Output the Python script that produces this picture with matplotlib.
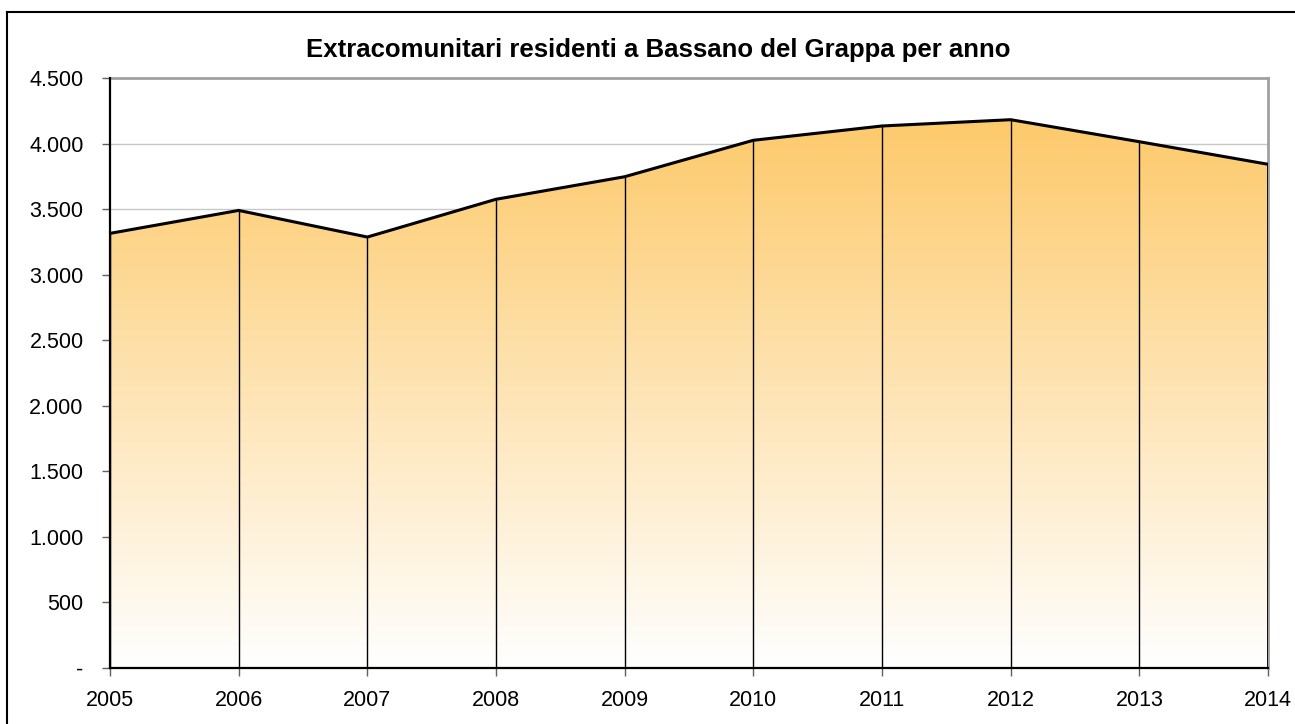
import matplotlib
matplotlib.use("Agg")
import matplotlib.pyplot as plt
import numpy as np
from matplotlib.colors import LinearSegmentedColormap
from matplotlib.lines import Line2D
from matplotlib.patches import Polygon
from matplotlib.ticker import FuncFormatter, MultipleLocator

plt.rcParams["font.family"] = ["Liberation Sans", "DejaVu Sans"]

years = [2005, 2006, 2007, 2008, 2009, 2010, 2011, 2012, 2013, 2014]
residenti = [3315, 3490, 3287, 3575, 3747, 4025, 4134, 4182, 4014, 3842]
title = "Extracomunitari residenti a Bassano del Grappa per anno"

W, H = 1295, 724
fig = plt.figure(figsize=(W / 100, H / 100), dpi=100)
ax = fig.add_axes([110 / W, (H - 668) / H, (1268 - 110) / W, (668 - 78) / H])

# gradiente arancio -> bianco, ritagliato sull'area
cmap = LinearSegmentedColormap.from_list("arancio", ["#ffffff", "#fdc867"])
grad = np.linspace(0, 1, 256).reshape(-1, 1)
im = ax.imshow(grad, cmap=cmap, aspect="auto", origin="lower",
               extent=[years[0], years[-1], 0, 4300], zorder=1)
poly = Polygon([(years[0], 0)] + list(zip(years, residenti)) + [(years[-1], 0)],
               closed=True, facecolor="none", edgecolor="none")
ax.add_patch(poly)
im.set_clip_path(poly)

ax.vlines(years[:-1], 0, residenti[:-1], color="black", lw=1, zorder=3)
ax.vlines(years[-1], 0, residenti[-1], color="black", lw=2, zorder=3)
ax.plot(years, residenti, color="black", lw=2.2, zorder=4, solid_joinstyle="miter")

ax.set_xlim(years[0], years[-1])
ax.set_ylim(0, 4500)
ax.yaxis.set_major_locator(MultipleLocator(500))
ax.yaxis.set_major_formatter(FuncFormatter(
    lambda v, _: "-" if v == 0 else f"{v:,.0f}".replace(",", ".")))
ax.set_xticks(years)
ax.grid(axis="y", color="#c8c8c8", lw=1, zorder=0)
ax.set_axisbelow(True)

for s in ("top", "right"):
    ax.spines[s].set_color("#a0a0a0")
    ax.spines[s].set_linewidth(2)
for s in ("left", "bottom"):
    ax.spines[s].set_color("black")
    ax.spines[s].set_linewidth(1.6)
    ax.spines[s].set_zorder(5)

ax.tick_params(axis="both", direction="out", length=6, width=1, color="#606060",
               labelsize=15.5, pad=13)
ax.tick_params(axis="x", pad=10)

fig.text(658 / W, 1 - 50 / H, title, ha="center", va="center",
         fontsize=18.5, fontweight="bold")

# cornice esterna
fig.add_artist(Line2D([7 / W, 7 / W], [0, 1 - 12 / H], color="black", lw=1.5,
                      transform=fig.transFigure))
fig.add_artist(Line2D([7 / W, 1], [1 - 12 / H, 1 - 12 / H], color="black", lw=1.5,
                      transform=fig.transFigure))

fig.savefig("out.png", dpi=100)
